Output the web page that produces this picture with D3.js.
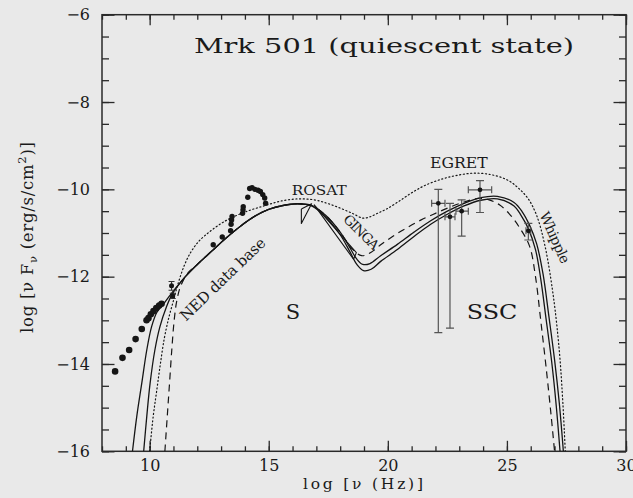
<!DOCTYPE html>
<html>
<head>
<meta charset="utf-8">
<script src="https://cdn.jsdelivr.net/npm/d3@7"></script>
<style>
  html, body { margin: 0; padding: 0; background: #e9e9e9; }
  svg { display: block; }
  text { fill: #1a1a1a; font-family: "DejaVu Serif", serif; }
</style>
</head>
<body>
<svg id="chart" width="633" height="498"></svg>
<script>
// Axis ticks
const xMajorTicks = [10, 15, 20, 25, 30];
const xMinorTicks = d3.range(8, 31, 1);
const yMajorTicks = [-6, -8, -10, -12, -14, -16];
const yMinorTicks = d3.range(-16, -5.9, 0.5);
const xTickLabels = ["10", "15", "20", "25", "30"];
const yTickLabels = ["\u22126", "\u22128", "\u221210", "\u221212", "\u221214", "\u221216"];

// Model curves: [log nu, log nu F_nu]
const modelHigh = [[9.28,-16],[9.46,-15.2],[9.67,-14.44],[9.88,-13.68],[10.08,-13.15],[10.3,-12.82],[10.62,-12.6],[10.95,-12.36],[11.5,-12.0],[12.0,-11.72],[12.6,-11.42],[13.2,-11.12],[13.8,-10.85],[14.4,-10.62],[15.0,-10.46],[15.6,-10.37],[16.2,-10.33],[16.8,-10.37],[17.4,-10.6],[18.0,-10.98],[18.4,-11.33],[18.7,-11.6],[18.95,-11.72],[19.25,-11.7],[19.7,-11.52],[20.4,-11.26],[21.1,-10.98],[21.8,-10.72],[22.5,-10.5],[23.2,-10.32],[23.9,-10.19],[24.6,-10.16],[25.3,-10.3],[25.65,-10.52],[25.95,-10.82],[26.25,-11.25],[26.52,-11.95],[26.76,-12.9],[27.0,-13.9],[27.2,-14.9],[27.37,-16]];
const modelLow = [[9.75,-16],[9.88,-15.2],[10.02,-14.44],[10.22,-13.68],[10.43,-13.15],[10.7,-12.7],[10.95,-12.4],[11.5,-12.0],[12.0,-11.72],[12.6,-11.42],[13.2,-11.12],[13.8,-10.85],[14.4,-10.62],[15.0,-10.46],[15.6,-10.37],[16.2,-10.33],[16.8,-10.38],[17.4,-10.64],[18.0,-11.04],[18.4,-11.42],[18.7,-11.72],[18.98,-11.86],[19.3,-11.83],[19.7,-11.65],[20.4,-11.38],[21.1,-11.08],[21.8,-10.8],[22.5,-10.57],[23.2,-10.38],[23.9,-10.25],[24.6,-10.22],[25.3,-10.38],[25.6,-10.6],[25.9,-10.9],[26.2,-11.38],[26.42,-12.05],[26.64,-12.95],[26.88,-13.95],[27.07,-14.95],[27.23,-16]];
const modelDashed = [[10.64,-16],[10.74,-15.2],[10.84,-14.4],[10.94,-13.6],[11.03,-13.0],[11.14,-12.55],[11.3,-12.22],[11.6,-11.92],[12.0,-11.72],[12.6,-11.42],[13.2,-11.12],[13.8,-10.85],[14.4,-10.62],[15.0,-10.46],[15.6,-10.37],[16.2,-10.33],[16.8,-10.37],[17.4,-10.6],[18.0,-10.98],[18.5,-11.36],[18.9,-11.52],[19.3,-11.44],[19.7,-11.27],[20.2,-11.08],[20.8,-10.88],[21.4,-10.7],[22.0,-10.55],[22.6,-10.41],[23.2,-10.29],[23.8,-10.21],[24.25,-10.24],[24.7,-10.36],[25.1,-10.56],[25.5,-10.85],[25.95,-11.3],[26.2,-12.0],[26.42,-13.0],[26.65,-14.1],[26.86,-15.2],[27.0,-16]];
const modelDotted = [[10.0,-16],[10.15,-15.2],[10.3,-14.6],[10.45,-14.0],[10.62,-13.4],[10.8,-12.95],[11.0,-12.55],[11.2,-12.15],[11.45,-11.75],[11.75,-11.42],[12.1,-11.17],[12.5,-10.98],[12.95,-10.8],[13.4,-10.66],[14.1,-10.5],[14.8,-10.38],[15.5,-10.27],[16.2,-10.22],[16.9,-10.24],[17.45,-10.32],[18.0,-10.43],[18.55,-10.56],[18.95,-10.66],[19.25,-10.63],[19.6,-10.54],[19.95,-10.45],[20.45,-10.28],[21.0,-10.08],[21.6,-9.9],[22.3,-9.76],[22.9,-9.68],[23.6,-9.63],[24.3,-9.66],[25.0,-9.78],[25.5,-9.98],[25.9,-10.22],[26.25,-10.6],[26.6,-11.3],[26.95,-12.45],[27.2,-13.7],[27.35,-14.9],[27.45,-16]];

// X-ray spectral bowties
const rosatBowtie = [[16.37,-10.45],[16.37,-10.78],[16.8,-10.33]];
const gingaBowtie = [[16.9,-10.35],[18.68,-11.45],[18.56,-11.6]];

// NED radio-to-UV photometry
const nedLogNu = [8.55,8.86,9.14,9.41,9.67,9.87,9.95,10.05,10.16,10.28,10.4,10.5,12.67,13.05,13.4,13.42,13.44,13.46,13.9,13.92,13.93,14.12,14.2,14.3,14.42,14.55,14.65,14.75,14.83,14.87];
const nedLogF = [-14.17,-13.86,-13.68,-13.43,-13.2,-13.0,-12.95,-12.86,-12.79,-12.72,-12.66,-12.62,-11.27,-11.09,-10.95,-10.8,-10.7,-10.62,-10.55,-10.47,-10.4,-10.18,-9.98,-9.96,-10.0,-10.02,-10.05,-10.12,-10.2,-10.32];
// NED points carrying error bars
const nedErrNu = [10.92, 10.97];
const nedErrF = [-12.21, -12.44];
const nedErrLo = [-12.31, -12.5];
const nedErrHi = [-12.11, -12.38];

// Gamma-ray points (EGRET, Whipple)
const gammaNu = [22.12, 22.61, 23.1, 23.87, 25.9];
const gammaF = [-10.32, -10.63, -10.5, -10.01, -10.95];
const gammaNuLo = [21.84, 22.4, 22.86, 23.38, 25.8];
const gammaNuHi = [22.4, 22.82, 23.38, 24.36, 26.0];
const gammaFLo = [-13.28, -13.18, -11.07, -10.53, -11.16];
const gammaFHi = [-10.0, -10.32, -10.24, -9.8, -10.78];

const svg = d3.select("#chart");
const mLeft = 102, mRight = 626, mTop = 14.7, mBottom = 451.3;

const x = d3.scaleLinear().domain([8, 30]).range([mLeft, mRight]);
const y = d3.scaleLinear().domain([-16, -6]).range([mBottom, mTop]);

const ink = "#151515";

// Axes with inward ticks on all four sides
function styleAxis(g) {
  g.select(".domain").remove();
  g.selectAll(".tick line").attr("stroke", "#2a2a2a").attr("stroke-width", 1.3);
  g.selectAll("text").attr("font-size", 16).attr("fill", "#1a1a1a")
    .attr("font-family", "DejaVu Serif, serif");
}
svg.append("g").attr("transform", `translate(0,${mBottom})`)
  .call(d3.axisBottom(x).tickValues(xMinorTicks).tickSize(-5).tickFormat(""))
  .call(styleAxis);
svg.append("g").attr("transform", `translate(0,${mBottom})`)
  .call(d3.axisBottom(x).tickValues(xMajorTicks).tickSize(-10.5).tickPadding(8)
    .tickFormat((d, i) => xTickLabels[i]))
  .call(styleAxis);
svg.append("g").attr("transform", `translate(0,${mTop})`)
  .call(d3.axisTop(x).tickValues(xMinorTicks).tickSize(-5).tickFormat(""))
  .call(styleAxis);
svg.append("g").attr("transform", `translate(0,${mTop})`)
  .call(d3.axisTop(x).tickValues(xMajorTicks).tickSize(-10.5).tickFormat(""))
  .call(styleAxis);
svg.append("g").attr("transform", `translate(${mLeft},0)`)
  .call(d3.axisLeft(y).tickValues(yMinorTicks).tickSize(-7).tickFormat(""))
  .call(styleAxis);
svg.append("g").attr("transform", `translate(${mLeft},0)`)
  .call(d3.axisLeft(y).tickValues(yMajorTicks).tickSize(-12.5).tickPadding(12)
    .tickFormat((d, i) => yTickLabels[i]))
  .call(styleAxis);
svg.append("g").attr("transform", `translate(${mRight},0)`)
  .call(d3.axisRight(y).tickValues(yMinorTicks).tickSize(-7).tickFormat(""))
  .call(styleAxis);
svg.append("g").attr("transform", `translate(${mRight},0)`)
  .call(d3.axisRight(y).tickValues(yMajorTicks).tickSize(-12.5).tickFormat(""))
  .call(styleAxis);

// Plot frame
svg.append("rect").attr("x", mLeft).attr("y", mTop)
  .attr("width", mRight - mLeft).attr("height", mBottom - mTop)
  .attr("fill", "none").attr("stroke", "#2a2a2a").attr("stroke-width", 1.5);

// Clip curves to the plot area
svg.append("clipPath").attr("id", "plotArea").append("rect")
  .attr("x", mLeft).attr("y", mTop).attr("width", mRight - mLeft).attr("height", mBottom - mTop);
const plot = svg.append("g").attr("clip-path", "url(#plotArea)");

const line = d3.line().x(d => x(d[0])).y(d => y(d[1])).curve(d3.curveCatmullRom.alpha(0.5));

plot.append("path").datum(modelDotted).attr("d", line)
  .attr("fill", "none").attr("stroke", ink).attr("stroke-width", 1.2)
  .attr("stroke-dasharray", "1.1,2.6").attr("stroke-linecap", "round");
plot.append("path").datum(modelDashed).attr("d", line)
  .attr("fill", "none").attr("stroke", ink).attr("stroke-width", 1.2)
  .attr("stroke-dasharray", "7,5");
plot.append("path").datum(modelLow).attr("d", line)
  .attr("fill", "none").attr("stroke", ink).attr("stroke-width", 1.3);
plot.append("path").datum(modelHigh).attr("d", line)
  .attr("fill", "none").attr("stroke", ink).attr("stroke-width", 1.3);

// Bowties
const poly = d3.line().x(d => x(d[0])).y(d => y(d[1]));
[rosatBowtie, gingaBowtie].forEach(b => {
  plot.append("path").datum(b.concat([b[0]])).attr("d", poly)
    .attr("fill", "none").attr("stroke", ink).attr("stroke-width", 1.1)
    .attr("stroke-linejoin", "round");
});

// NED points
plot.selectAll("circle.ned").data(nedLogNu).join("circle").attr("class", "ned")
  .attr("cx", d => x(d)).attr("cy", (d, i) => y(nedLogF[i]))
  .attr("r", d => d < 10.6 ? 3.3 : 2.7).attr("fill", ink);

// NED points with error bars
nedErrNu.forEach((nu, i) => {
  const g = plot.append("g").attr("stroke", "#333").attr("stroke-width", 1.1);
  g.append("line").attr("x1", x(nu)).attr("x2", x(nu)).attr("y1", y(nedErrLo[i])).attr("y2", y(nedErrHi[i]));
  g.append("line").attr("x1", x(nu) - 3).attr("x2", x(nu) + 3).attr("y1", y(nedErrHi[i])).attr("y2", y(nedErrHi[i]));
  g.append("line").attr("x1", x(nu) - 3).attr("x2", x(nu) + 3).attr("y1", y(nedErrLo[i])).attr("y2", y(nedErrLo[i]));
  plot.append("circle").attr("cx", x(nu)).attr("cy", y(nedErrF[i])).attr("r", 2.5).attr("fill", ink);
});

// Gamma-ray points with error bars
gammaNu.forEach((nu, i) => {
  const g = plot.append("g").attr("stroke", "#555").attr("stroke-width", 1.2);
  const cx = x(nu), cy = y(gammaF[i]);
  g.append("line").attr("x1", cx).attr("x2", cx).attr("y1", y(gammaFLo[i])).attr("y2", y(gammaFHi[i]));
  g.append("line").attr("x1", x(gammaNuLo[i])).attr("x2", x(gammaNuHi[i])).attr("y1", cy).attr("y2", cy);
  [gammaFLo[i], gammaFHi[i]].forEach(v => {
    g.append("line").attr("x1", cx - 4).attr("x2", cx + 4).attr("y1", y(v)).attr("y2", y(v));
  });
  [gammaNuLo[i], gammaNuHi[i]].forEach(v => {
    g.append("line").attr("x1", x(v)).attr("x2", x(v)).attr("y1", cy - 3.5).attr("y2", cy + 3.5);
  });
  plot.append("circle").attr("cx", cx).attr("cy", cy).attr("r", 2.4).attr("fill", ink);
});

// Title and annotations
svg.append("text").attr("x", 194).attr("y", 52.7).attr("font-size", 21)
  .attr("textLength", 380).attr("lengthAdjust", "spacingAndGlyphs")
  .text("Mrk 501 (quiescent state)");

svg.append("text").attr("x", 291.7).attr("y", 195).attr("font-size", 13.5)
  .attr("textLength", 55).attr("lengthAdjust", "spacingAndGlyphs").text("ROSAT");
svg.append("text").attr("x", 430).attr("y", 167.7).attr("font-size", 14)
  .attr("textLength", 57.7).attr("lengthAdjust", "spacingAndGlyphs").text("EGRET");

function rotatedLabel(txt, cx, cy, angle, size, len) {
  svg.append("text").attr("transform", `translate(${cx},${cy}) rotate(${angle})`)
    .attr("text-anchor", "middle").attr("dy", "0.36em").attr("font-size", size)
    .attr("textLength", len).attr("lengthAdjust", "spacing").text(txt);
}
rotatedLabel("GINGA", 361.5, 232, 45, 13.5, 44);
rotatedLabel("NED data base", 222.5, 279, -44, 15, 112);
rotatedLabel("Whipple", 555, 237.5, 66, 14, 55);

svg.append("text").attr("x", 293).attr("y", 319).attr("text-anchor", "middle")
  .attr("font-size", 21).text("S");
svg.append("text").attr("x", 466.7).attr("y", 319.3).attr("font-size", 21)
  .attr("textLength", 50.6).attr("lengthAdjust", "spacingAndGlyphs").text("SSC");

// Axis titles
svg.append("text").attr("x", 363).attr("y", 489).attr("text-anchor", "middle")
  .attr("font-size", 15.5).attr("textLength", 120).attr("lengthAdjust", "spacing")
  .text("log [\u03bd (Hz)]");

const yt = svg.append("text").attr("transform", "translate(33,237.5) rotate(-90)")
  .attr("text-anchor", "middle").attr("font-size", 16.5)
  .attr("textLength", 191).attr("lengthAdjust", "spacing");
yt.append("tspan").text("log [\u03bd F");
yt.append("tspan").attr("dy", 4).attr("font-size", 11.5).text("\u03bd");
yt.append("tspan").attr("dy", -4).text(" (erg/s/cm");
yt.append("tspan").attr("dy", -7).attr("font-size", 11.5).text("2");
yt.append("tspan").attr("dy", 7).text(")]");
</script>
</body>
</html>
